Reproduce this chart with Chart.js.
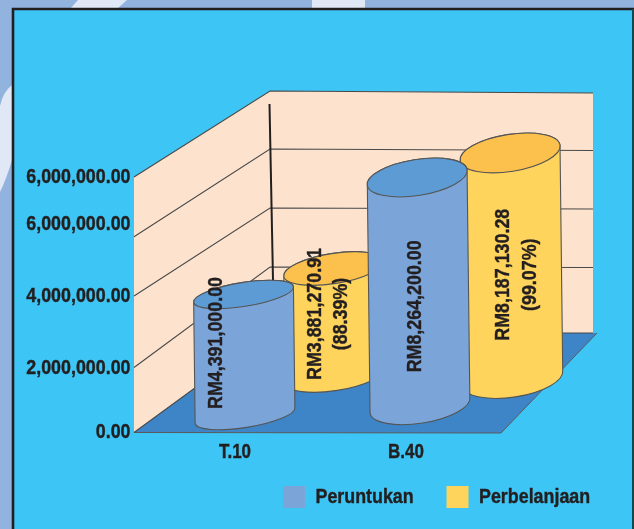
<!DOCTYPE html>
<html>
<head>
<meta charset="utf-8">
<style>html,body{margin:0;padding:0;background:#93B3DF}canvas{display:block}</style>
<script src="https://cdn.jsdelivr.net/npm/chart.js@4"></script>
</head>
<body>
<canvas id="c" width="634" height="529"></canvas>
<script>
// ---- data ----
const categories = ['T.10', 'B.40'];
const peruntukan = [4391000.00, 8264200.00];
const perbelanjaan = [3881270.91, 8187130.28];
const peruntukanLabels = [['RM4,391,000.00'], ['RM8,264,200.00']];
const perbelanjaanLabels = [['RM3,881,270.91', '(88.39%)'], ['RM8,187,130.28', '(99.07%)']];
const yTickValues = [0, 2350000, 4950000, 7570000, 9270000];
const yTickLabels = ['0.00', '2,000,000.00', '4,000,000.00', '6,000,000.00', '6,000,000.00'];
const gridFrontValues = [2360000, 4950000, 7100000];
const gridBackValues = [2530000, 4790000, 7050000];
const yMax = 9270000;

// ---- style / layout ----
const FONT = '"Liberation Sans",sans-serif';
const TEXT_SQUEEZE = 0.85;
const INK = '#231f20';
const BLUE = '#7BA5D9', BLUE_TOP = '#5C9BD3', YEL = '#FFD45C', YEL_TOP = '#FBC14C';
const wall = {
  flb: [134, 431], frb: [501, 433], blb: [270, 333], brb: [597, 333],
  brw: [593, 333], brt: [593, 93], blt: [270, 91]
};
const depthPlanes = [
  {dx: 10, dy: -17, kx: 0.023, ky: -0.06, side: BLUE, top: BLUE_TOP},
  {dx: 100, dy: -57, kx: 0.04, ky: 0.018, side: YEL, top: YEL_TOP}
];
const labelShift = [
  [[-28, -12], [-3, 15]],
  [[-6, -8], [5, 9]]
];

// the reference uses a heavy condensed face: squeeze and embolden all text
const canvas = document.getElementById('c');
const ctx0 = canvas.getContext('2d');
const rawFillText = ctx0.fillText.bind(ctx0);
const rawStrokeText = ctx0.strokeText.bind(ctx0);
ctx0.fillText = function (t, x, y) {
  ctx0.save();
  ctx0.translate(x, y);
  ctx0.scale(TEXT_SQUEEZE, 1);
  ctx0.strokeStyle = ctx0.fillStyle;
  ctx0.lineWidth = 0.4;
  rawFillText(t, 0, 0);
  rawStrokeText(t, 0, 0);
  ctx0.restore();
};

function cylinderGeom(chart, di, i) {
  const meta = chart.getDatasetMeta(di);
  const el = meta.data[i];
  const yS = chart.scales.y, xS = chart.scales.x;
  const p = depthPlanes[di];
  const off = el.x - xS.getPixelForValue(0);
  const bx = el.x + p.dx + p.kx * off;
  const by = yS.getPixelForValue(0) + p.dy + p.ky * off;
  const h = yS.getPixelForValue(0) - el.y;
  return {bx, by, tx: bx - 0.012 * h, ty: by - h, rx: 50.5,
          ry: Math.min(18.5, 12 + (bx - 245) * 0.034), rot: -9 * Math.PI / 180};
}

const scene = {
  id: 'scene',
  beforeDraw(chart) {
    const c = chart.ctx;
    c.save();
    c.fillStyle = '#93B3DF';
    c.fillRect(0, 0, 634, 529);
    c.fillStyle = '#E0E8F6';
    [[[78,0],[127,0],[117,9],[70,9]], [[312,0],[365,0],[365,9],[312,9]]].forEach(s => {
      c.beginPath(); s.forEach(p => c.lineTo(p[0], p[1])); c.fill();
    });
    c.beginPath(); c.moveTo(12, 85); c.quadraticCurveTo(3, 92, 0, 106); c.lineTo(0, 192);
    c.quadraticCurveTo(6, 180, 12, 160); c.fill();
    c.fillStyle = '#3DC6F5';
    c.fillRect(13, 9, 621, 520);
    c.strokeStyle = '#231f20'; c.lineWidth = 2.6;
    c.beginPath(); c.moveTo(13, 529); c.lineTo(13, 9); c.lineTo(634, 9); c.stroke();
    c.lineWidth = 2; c.strokeStyle = '#12484f';
    c.beginPath(); c.moveTo(633, 9); c.lineTo(633, 529); c.stroke();
    c.restore();
  },
  beforeDatasetsDraw(chart) {
    const c = chart.ctx, y = chart.scales.y, w = wall;
    const f0 = y.getPixelForValue(0), ftop = y.getPixelForValue(yMax);
    c.save();
    c.fillStyle = '#FDE3CE';
    c.beginPath();
    [[w.flb[0], ftop], [w.flb[0], f0], w.blb, w.brw, w.brt, w.blt].forEach(p => c.lineTo(p[0], p[1]));
    c.closePath(); c.fill();
    // floor
    c.fillStyle = '#3D85C6';
    c.strokeStyle = '#5a5a5a'; c.lineWidth = 1;
    c.beginPath();
    [[w.flb[0], f0], w.frb, w.brb, w.blb].forEach(p => c.lineTo(p[0], p[1]));
    c.closePath(); c.fill();
    c.beginPath(); c.moveTo(w.flb[0], f0); c.lineTo(w.frb[0], w.frb[1]); c.lineTo(w.brb[0], w.brb[1]); c.stroke();
    // gridlines: front edge -> back corner -> right edge
    c.strokeStyle = '#4a4a4a'; c.lineWidth = 1.1;
    const backH = w.blb[1] - w.blt[1], rightH = w.brw[1] - w.brt[1];
    const line = (fy, frac) => {
      c.beginPath(); c.moveTo(w.flb[0], fy);
      c.lineTo(w.blb[0], w.blb[1] - backH * frac);
      c.lineTo(w.brw[0], w.brw[1] - rightH * frac); c.stroke();
    };
    gridFrontValues.forEach((v, i) => line(y.getPixelForValue(v), gridBackValues[i] / yMax));
    line(ftop, 1);
    line(f0, 0);
    // upright in the back corner
    c.strokeStyle = '#231f20'; c.lineWidth = 2;
    c.beginPath(); c.moveTo(269.5, 104); c.lineTo(273, 280); c.stroke();
    c.restore();
  },
  beforeDatasetDraw(chart, args) {
    const c = chart.ctx, di = args.index, p = depthPlanes[di];
    args.meta.data.forEach((el, i) => {
      const g = cylinderGeom(chart, di, i);
      c.save();
      c.strokeStyle = '#555'; c.lineWidth = 1.1;
      c.fillStyle = p.side;
      c.beginPath();
      c.ellipse(g.bx, g.by, g.rx, g.ry, g.rot, 0, Math.PI);
      c.ellipse(g.tx, g.ty, g.rx, g.ry, g.rot, Math.PI, 2 * Math.PI);
      c.closePath(); c.fill(); c.stroke();
      c.fillStyle = p.top;
      c.beginPath();
      c.ellipse(g.tx, g.ty, g.rx, g.ry, g.rot, 0, 2 * Math.PI);
      c.fill(); c.stroke();
      c.restore();
    });
    return false;
  },
  afterDatasetsDraw(chart) {
    const c = chart.ctx;
    [peruntukanLabels, perbelanjaanLabels].forEach((labels, di) => {
      labels.forEach((lines, i) => {
        const g = cylinderGeom(chart, di, i);
        const s = labelShift[di][i];
        const x = (g.bx + g.tx) / 2 + s[0], yy = (g.by + g.ty) / 2 + s[1];
        c.save();
        c.translate(x, yy);
        c.rotate(-Math.PI / 2);
        c.font = 'bold 21px ' + FONT;
        c.fillStyle = INK;
        c.textAlign = 'center'; c.textBaseline = 'middle';
        lines.forEach((t, k) => c.fillText(t, 0, (k - (lines.length - 1) / 2) * 26.5));
        c.restore();
      });
    });
  },
  afterLayout(chart) {
    const l = chart.legend;
    const pad = l.options.labels.padding;
    l.left = 283 - pad; l.right = 720; l.top = 486 - pad; l.bottom = 529;
  }
};

new Chart(canvas, {
  type: 'bar',
  plugins: [scene],
  data: {
    labels: categories,
    datasets: [
      {label: 'Peruntukan', data: peruntukan, backgroundColor: BLUE, grouped: false},
      {label: 'Perbelanjaan', data: perbelanjaan, backgroundColor: YEL, grouped: false}
    ]
  },
  options: {
    responsive: false,
    animation: false,
    layout: {padding: {top: 177, left: 0, right: 142.5, bottom: 13}},
    plugins: {
      tooltip: {enabled: false},
      legend: {
        position: 'bottom', align: 'start',
        labels: {
          boxWidth: 22, boxHeight: 22, padding: 15.5,
          color: INK, font: {family: FONT, size: 21, weight: 'bold'}
        }
      }
    },
    scales: {
      x: {
        grid: {display: false}, border: {display: false},
        afterFit(s) { s.height = 36; },
        ticks: {color: INK, padding: 0, font: {family: FONT, size: 20, weight: 'bold'}, maxRotation: 0}
      },
      y: {
        min: 0, max: yMax,
        grid: {display: false}, border: {display: false},
        afterFit(s) { s.width = 149.5; },
        afterBuildTicks(s) { s.ticks = yTickValues.map(v => ({value: v})); },
        ticks: {
          color: INK, padding: 11, autoSkip: false,
          font: {family: FONT, size: 21, weight: 'bold'},
          callback(v) { return yTickLabels[yTickValues.indexOf(v)]; }
        }
      }
    }
  }
});
</script>
</body>
</html>
